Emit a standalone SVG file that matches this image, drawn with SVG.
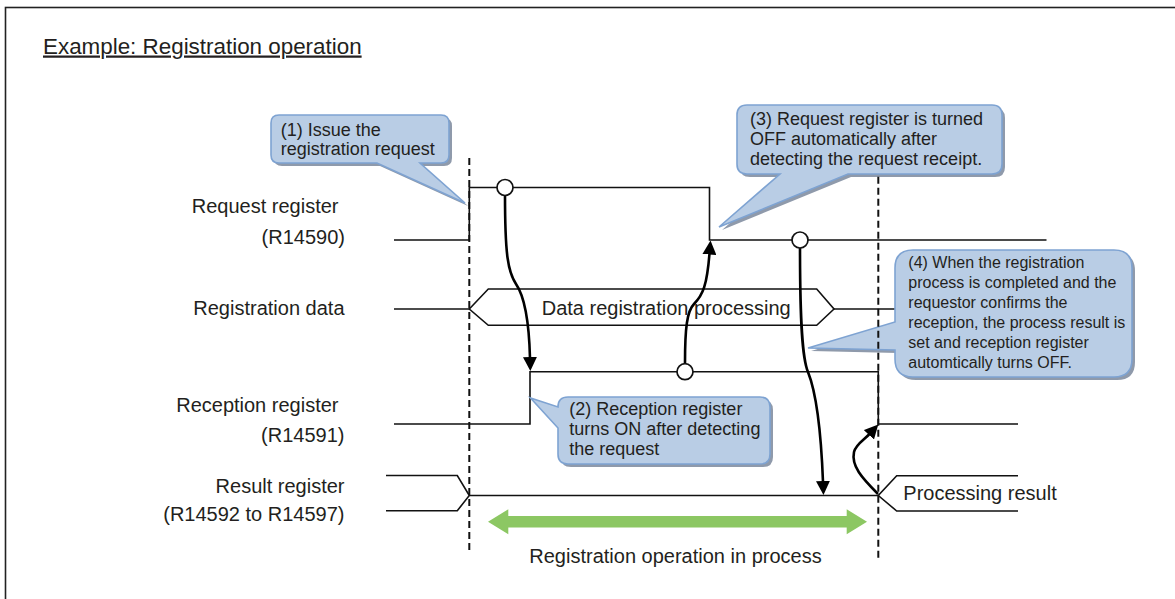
<svg xmlns="http://www.w3.org/2000/svg" width="1175" height="599" viewBox="0 0 1175 599">
  <defs>
    <style>
      text { font-family: "Liberation Sans", Arial, sans-serif; fill: #231f20; }
      .lbl { font-size: 20px; text-anchor: end; }
      .txt { font-size: 20px; }
      .co { font-size: 18px; }
      .co4 { font-size: 16px; }
      .sig { fill: none; stroke: #111; stroke-width: 1.6; stroke-linejoin: miter; }
      .dash { fill: none; stroke: #111; stroke-width: 2; stroke-dasharray: 7 4; }
      .node { fill: #fff; stroke: #111; stroke-width: 1.7; }
      .cbody { fill: #b9cde5; stroke: #7ea3d2; stroke-width: 1.6; }
      .cshadow { fill: #8f9aab; }
      .arr { fill: none; stroke: #000; stroke-width: 2.6; }
    </style>
    <marker id="ah" viewBox="0 0 14 14" refX="1" refY="7" markerWidth="14" markerHeight="14" markerUnits="userSpaceOnUse" orient="auto">
      <path d="M0,0 L14,7 L0,14 Z" fill="#000"/>
    </marker>
  </defs>

  <rect width="1175" height="599" fill="#fff"/>
  <g id="frame">
    <rect x="5.5" y="7.5" width="1200" height="700" fill="none" stroke="#222" stroke-width="1.6"/>
  </g>

  <g id="title">
    <text x="43" y="53.5" font-size="22.4" text-decoration="underline">Example: Registration operation</text>
  </g>

  <g id="labels">
    <text class="lbl" x="338.5" y="213.3">Request register</text>
    <text class="lbl" x="345" y="244">(R14590)</text>
    <text class="lbl" x="344.5" y="315">Registration data</text>
    <text class="lbl" x="338.5" y="412.3">Reception register</text>
    <text class="lbl" x="344.5" y="441.7">(R14591)</text>
    <text class="lbl" x="344.5" y="492.7">Result register</text>
    <text class="lbl" x="344.5" y="521">(R14592 to R14597)</text>
  </g>

  <g id="signal-request">
    <polyline class="sig" points="394,240 469.3,240 469.3,187.5 709.5,187.5 709.5,240 1046.5,240"/>
  </g>
  <g id="signal-data">
    <line class="sig" x1="394" y1="309" x2="469.3" y2="309"/>
    <polygon class="sig" points="469.3,309 488.3,289 816.7,289 834,309 816.7,325.3 488.3,325.3"/>
    <line class="sig" x1="834" y1="309" x2="895" y2="309"/>
    <text class="txt" x="541.7" y="315">Data registration processing</text>
  </g>
  <g id="signal-reception">
    <polyline class="sig" points="394,424 530,424 530,371.7 878.3,371.7 878.3,424 1018,424"/>
  </g>
  <g id="signal-result">
    <polyline class="sig" points="386,475.5 457.3,475.5 469.3,495.5 457.3,510.7 386,510.7"/>
    <line class="sig" x1="469.3" y1="495.5" x2="878.3" y2="495.5"/>
    <polyline class="sig" points="1018,475.7 896.7,475.7 878.3,495.5 896.7,511 1018,511"/>
    <text class="txt" x="903.3" y="500">Processing result</text>
  </g>

  <g id="callout-1">
    <path class="cshadow" transform="translate(3,3)" d="M279,115 H441 Q449,115 449,123 V155 Q449,163 441,163 H420 L465,203 L377,163 H279 Q271,163 271,155 V123 Q271,115 279,115 Z"/>
    <path class="cbody" d="M279,115 H441 Q449,115 449,123 V155 Q449,163 441,163 H420 L465,203 L377,163 H279 Q271,163 271,155 V123 Q271,115 279,115 Z"/>
    <text class="co" x="280.7" y="135.7">(1) Issue the</text>
    <text class="co" x="280.7" y="155">registration request</text>
  </g>

  <g id="callout-2">
    <path class="cshadow" transform="translate(3,3)" d="M568,397 H760 Q770,397 770,407 V454 Q770,464 760,464 H568 Q558,464 558,454 V428 L530.5,398 L558,407 Q558,397 568,397 Z"/>
    <path class="cbody" d="M568,397 H760 Q770,397 770,407 V454 Q770,464 760,464 H568 Q558,464 558,454 V428 L530.5,398 L558,407 Q558,397 568,397 Z"/>
    <text class="co" x="569.3" y="415">(2) Reception register</text>
    <text class="co" x="569.3" y="435">turns ON after detecting</text>
    <text class="co" x="569.3" y="454.5">the request</text>
  </g>

  <g id="callout-3">
    <path class="cshadow" transform="translate(3,3)" d="M747,105 H992 Q1002,105 1002,115 V164 Q1002,174 992,174 H848 L719,227 L780,174 H747 Q737,174 737,164 V115 Q737,105 747,105 Z"/>
    <path class="cbody" d="M747,105 H992 Q1002,105 1002,115 V164 Q1002,174 992,174 H848 L719,227 L780,174 H747 Q737,174 737,164 V115 Q737,105 747,105 Z"/>
    <text class="co" x="750" y="125">(3) Request register is turned</text>
    <text class="co" x="750" y="145">OFF automatically after</text>
    <text class="co" x="750" y="165">detecting the request receipt.</text>
  </g>

  <g id="callout-4">
    <path class="cshadow" transform="translate(3,3)" d="M913,250 H1114 Q1132,250 1132,268 V359 Q1132,377 1114,377 H913 Q895,377 895,359 V350 L808,348 L895,322 V268 Q895,250 913,250 Z"/>
    <path class="cbody" d="M913,250 H1114 Q1132,250 1132,268 V359 Q1132,377 1114,377 H913 Q895,377 895,359 V350 L808,348 L895,322 V268 Q895,250 913,250 Z"/>
    <text class="co4" x="908.3" y="268.3">(4) When the registration</text>
    <text class="co4" x="908.3" y="288.3">process is completed and the</text>
    <text class="co4" x="908.3" y="308.3">requestor confirms the</text>
    <text class="co4" x="908.3" y="328.3">reception, the process result is</text>
    <text class="co4" x="908.3" y="348.3">set and reception register</text>
    <text class="co4" x="908.3" y="368.3">automtically turns OFF.</text>
  </g>

  <g id="timelines">
    <line class="dash" x1="469.3" y1="158" x2="469.3" y2="554"/>
    <line class="dash" x1="878.3" y1="176.7" x2="878.3" y2="558"/>
  </g>

  <g id="connectors">
    <path class="arr" marker-end="url(#ah)" d="M505,195 C505,255 508,272 516,284 C525,297 529,320 530,358"/>
    <path class="arr" marker-end="url(#ah)" d="M685,363 C685,328 687,311 694,304 C703,295 707,285 709.5,253.5"/>
    <path class="arr" marker-end="url(#ah)" d="M800,248 C800,320 802,358 808,372 C816,392 821,430 823,482"/>
    <path class="arr" marker-end="url(#ah)" d="M878,494 C862,478 851,466 854,452 C856,444 864,440 869.5,434"/>
  </g>

  <g id="edge-nodes">
    <circle class="node" cx="505" cy="187.5" r="8"/>
    <circle class="node" cx="800" cy="240" r="8"/>
    <circle class="node" cx="685" cy="371.7" r="8"/>
  </g>

  <g id="operation-span">
    <polygon fill="#8cc763" points="488,521.7 508.3,509.2 508.3,516 846.7,516 846.7,509.2 867,521.7 846.7,534.2 846.7,527.4 508.3,527.4 508.3,534.2"/>
    <text class="txt" x="529.3" y="562.7">Registration operation in process</text>
  </g>
</svg>
